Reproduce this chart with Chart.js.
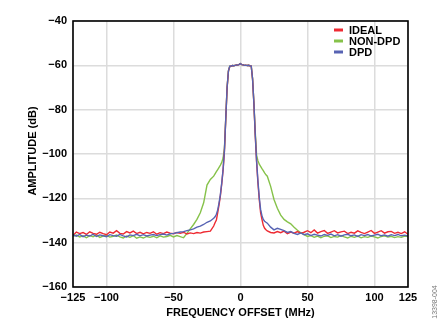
<!DOCTYPE html>
<html>
<head>
<meta charset="utf-8">
<script src="https://cdn.jsdelivr.net/npm/chart.js@4.4.1/dist/chart.umd.min.js"></script>
<style>
  html, body { margin: 0; padding: 0; background: #fff; }
  #wrap { width: 442px; height: 325px; }
</style>
</head>
<body>
<div id="wrap"><canvas id="spectrum" width="442" height="325"></canvas></div>
<script>
// frequency offset (MHz): 2.5 MHz steps in the tails, 1 MHz across the main lobe
const freq = [
  -125, -122.5, -120, -117.5, -115, -112.5, -110, -107.5, -105, -102.5,
  -100, -97.5, -95, -92.5, -90, -87.5, -85, -82.5, -80, -77.5,
  -75, -72.5, -70, -67.5, -65, -62.5, -60, -57.5, -55, -52.5,
  -50, -47.5, -45, -42.5, -40, -37.5, -35, -32.5, -30, -27.5,
  -25, -22.5, -20,
  -19, -18, -17, -16, -15, -14, -13, -12, -11, -10,
  -9, -8, -7, -6, -5, -4, -3, -2, -1, 0,
  1, 2, 3, 4, 5, 6, 7, 8, 9, 10,
  11, 12, 13, 14, 15, 16, 17, 18, 19,
  20, 22.5, 25, 27.5, 30, 32.5, 35, 37.5, 40, 42.5,
  45, 47.5, 50, 52.5, 55, 57.5, 60, 62.5, 65, 67.5,
  70, 72.5, 75, 77.5, 80, 82.5, 85, 87.5, 90, 92.5,
  95, 97.5, 100, 102.5, 105, 107.5, 110, 112.5, 115, 117.5,
  120, 122.5, 125
];

const ideal = [
  -136.8, -135.2, -135.9, -135.4, -136.3, -135.1, -135.8, -136.2, -135.3, -135.9,
  -136.4, -135.2, -135.7, -134.6, -135.8, -136.1, -135.0, -135.6, -134.8, -135.9,
  -135.3, -136.0, -135.4, -135.8, -135.1, -136.2, -135.5, -135.9, -135.2, -135.7,
  -136.0, -135.4, -135.8, -135.3, -136.1, -135.6, -135.9, -135.4, -135.7, -135.2,
  -135.0, -134.8, -132.5,
  -131.0, -129.8, -126.5, -122.8, -118.8, -113.5, -107.3, -98.8, -84.2, -70.2,
  -62.6, -60.5, -60.3, -60.1, -60.2, -60.0, -59.8, -59.9, -59.6, -59.2,
  -59.7, -59.8, -60.0, -59.9, -60.1, -60.0, -60.2, -60.3, -66.2, -77.3,
  -91.5, -103.5, -113.0, -120.5, -126.5, -129.5, -132.2, -133.5, -134.2,
  -134.7, -135.4, -135.6, -135.0, -135.5, -134.8, -135.9, -135.2, -135.7, -135.0,
  -135.8, -135.3, -134.6, -135.5, -134.3, -135.7, -135.0, -134.5, -135.8, -135.2,
  -134.6, -135.6, -135.1, -134.8, -135.9, -135.3, -135.7, -134.7, -135.4, -135.9,
  -135.2, -134.5, -135.8, -135.2, -134.6, -135.7, -135.1, -134.9, -135.8, -135.3,
  -135.9, -135.1, -136.2
];

const nonDpd = [
  -137.2, -136.6, -137.4, -136.9, -137.8, -136.8, -137.3, -136.5, -137.6, -137.0,
  -136.7, -137.5, -137.1, -136.6, -137.4, -137.9, -137.0, -137.6, -136.8, -138.0,
  -137.4, -137.9, -137.2, -137.6, -137.1, -137.8, -136.9, -137.5, -137.2, -136.7,
  -137.4, -136.8, -137.3, -137.8, -135.8, -133.8, -131.8, -129.5, -126.5, -122.0,
  -114.0, -111.5, -110.0,
  -109.0, -108.0, -107.0, -106.0, -105.0, -103.8, -101.8, -97.5, -84.0, -70.0,
  -62.5, -60.4, -60.3, -60.1, -60.2, -60.0, -59.8, -59.9, -59.6, -59.2,
  -59.7, -59.8, -60.0, -59.9, -60.1, -60.0, -60.2, -60.3, -66.0, -77.0,
  -90.0, -100.5, -103.0, -104.6, -105.6, -106.6, -107.5, -108.5, -109.4,
  -110.0, -114.6, -120.5, -124.5, -127.6, -129.5, -130.6, -131.5, -133.0, -134.4,
  -135.5, -136.4, -137.2, -136.8, -137.6, -137.0, -137.8, -137.1, -136.9, -137.7,
  -137.2, -137.5, -136.8, -137.4, -137.9, -137.1, -137.6, -137.0, -137.8, -137.3,
  -137.6, -137.0, -137.4, -137.9, -137.2, -136.9, -137.5, -137.1, -137.7, -137.3,
  -137.6, -137.0, -137.3
];

const dpd = [
  -136.4, -137.1, -136.3, -137.3, -136.6, -137.0, -136.2, -137.2, -136.5, -136.9,
  -137.3, -136.4, -136.8, -137.1, -136.3, -136.9, -137.4, -136.5, -136.8, -136.2,
  -136.9, -136.4, -137.0, -136.6, -136.3, -136.8, -136.4, -136.1, -136.6, -136.0,
  -135.8, -135.5, -135.2, -135.0, -134.6, -134.2, -133.8, -133.0, -132.5, -131.8,
  -130.8, -130.2, -129.0,
  -128.3, -127.2, -125.2, -122.0, -118.2, -113.0, -107.0, -98.5, -84.0, -70.0,
  -62.5, -60.4, -60.3, -60.1, -60.2, -60.0, -59.8, -59.9, -59.6, -59.2,
  -59.7, -59.8, -60.0, -59.9, -60.1, -60.0, -60.2, -60.3, -66.0, -77.0,
  -91.0, -103.0, -112.0, -119.5, -125.0, -127.8, -129.5, -130.3, -130.8,
  -131.2, -133.0, -134.2, -133.5, -134.0, -134.6, -135.4, -135.0, -135.8, -136.3,
  -135.6, -136.4, -136.0, -136.8, -136.2, -136.6, -137.0, -136.3, -136.7, -136.1,
  -136.9, -136.4, -137.1, -136.5, -136.2, -136.9, -136.5, -137.2, -136.4, -136.8,
  -136.3, -137.0, -136.6, -136.2, -136.9, -136.5, -137.1, -136.4, -136.8, -136.3,
  -136.9, -136.6, -137.0
];

const xTicks = [-125, -100, -50, 0, 50, 100, 125];
const seriesNames = ['IDEAL', 'NON-DPD', 'DPD'];
const seriesColors = ['#ee2a32', '#86c24a', '#5763b3'];

const FONT = '"Liberation Sans", Arial, sans-serif';
const minus = v => (v < 0 ? '\u2212' + Math.abs(v) : String(v));
const pts = ys => freq.map((f, i) => ({ x: f, y: ys[i] }));

// legend, border, axis titles and the figure number
const decor = {
  id: 'decor',
  afterDraw(chart) {
    const { ctx, chartArea: a } = chart;
    ctx.save();
    ctx.strokeStyle = '#000';
    ctx.lineWidth = 1.6;
    ctx.strokeRect(a.left, a.top, a.right - a.left, a.bottom - a.top);

    ctx.font = 'bold 11px ' + FONT;
    ctx.textBaseline = 'middle';
    ctx.fillStyle = '#000';
    seriesNames.forEach((name, i) => {
      const y = 30 + i * 11;
      ctx.strokeStyle = seriesColors[i];
      ctx.lineWidth = 3;
      ctx.beginPath();
      ctx.moveTo(334, y);
      ctx.lineTo(343, y);
      ctx.stroke();
      ctx.fillText(name, 349, y + 0.5);
    });

    ctx.textAlign = 'center';
    ctx.fillText('FREQUENCY OFFSET (MHz)', (a.left + a.right) / 2, 313);
    ctx.save();
    ctx.translate(33, 151);
    ctx.rotate(-Math.PI / 2);
    ctx.fillText('AMPLITUDE (dB)', 0, 0);
    ctx.restore();

    ctx.font = '7px ' + FONT;
    ctx.fillStyle = '#777';
    ctx.translate(435, 302);
    ctx.rotate(-Math.PI / 2);
    ctx.fillText('13398-004', 0, 0);
    ctx.restore();
  }
};

new Chart(document.getElementById('spectrum'), {
  type: 'line',
  data: {
    datasets: [
      { label: seriesNames[0], data: pts(ideal), borderColor: seriesColors[0], order: 1 },
      { label: seriesNames[1], data: pts(nonDpd), borderColor: seriesColors[1], order: 2 },
      { label: seriesNames[2], data: pts(dpd), borderColor: seriesColors[2], order: 0 }
    ]
  },
  options: {
    responsive: false,
    animation: false,
    devicePixelRatio: 1,
    layout: { padding: { top: 21, right: 34, left: 0, bottom: 0 } },
    elements: {
      point: { radius: 0 },
      line: { borderWidth: 1.4, tension: 0 }
    },
    plugins: { legend: { display: false }, tooltip: { enabled: false } },
    scales: {
      x: {
        type: 'linear',
        min: -125,
        max: 125,
        afterBuildTicks: s => { s.ticks = xTicks.map(v => ({ value: v })); },
        afterFit: s => { s.height = 38; },
        grid: { color: '#dcdcdc', lineWidth: 1.5, drawTicks: false },
        border: { display: false },
        ticks: {
          padding: 4,
          color: '#000',
          font: { family: FONT, size: 11, weight: 'bold' },
          maxRotation: 0,
          autoSkip: false,
          callback: v => minus(v)
        }
      },
      y: {
        min: -160,
        max: -40,
        afterFit: s => { s.width = 73; },
        grid: { color: '#dcdcdc', lineWidth: 1.5, drawTicks: false },
        border: { display: false },
        ticks: {
          stepSize: 20,
          padding: 6,
          color: '#000',
          font: { family: FONT, size: 11, weight: 'bold' },
          callback: v => minus(v)
        }
      }
    }
  },
  plugins: [decor]
});
</script>
</body>
</html>
